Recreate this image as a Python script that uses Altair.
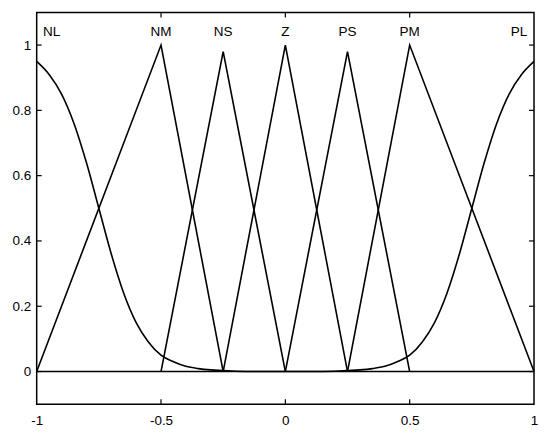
import altair as alt
import pandas as pd

# ---- data ----
nl_x = [-1, -0.95, -0.9, -0.85, -0.8, -0.75, -0.7, -0.65, -0.6, -0.55, -0.5,
        -0.45, -0.4, -0.35, -0.3, -0.25, -0.2, -0.1, 0]
nl_y = [0.95, 0.91, 0.85, 0.76, 0.64, 0.50, 0.36, 0.24, 0.15, 0.09, 0.05,
        0.03, 0.016, 0.009, 0.005, 0.003, 0.001, 0, 0]
pl_x = [0, 0.1, 0.2, 0.25, 0.3, 0.35, 0.4, 0.45, 0.5, 0.55, 0.6, 0.65, 0.7,
        0.75, 0.8, 0.85, 0.9, 0.95, 1]
pl_y = [0, 0, 0.001, 0.003, 0.005, 0.009, 0.016, 0.03, 0.05, 0.09, 0.15,
        0.24, 0.36, 0.50, 0.64, 0.76, 0.85, 0.91, 0.95]
nm_x = [-1, -0.5, -0.25]
nm_y = [0, 1, 0]
ns_x = [-0.5, -0.25, 0]
ns_y = [0, 0.98, 0]
z_x = [-0.25, 0, 0.25]
z_y = [0, 1, 0]
ps_x = [0, 0.25, 0.5]
ps_y = [0, 0.98, 0]
pm_x = [0.25, 0.5, 1]
pm_y = [0, 1, 0]

label_names = ["NL", "NM", "NS", "Z", "PS", "PM", "PL"]
label_x = [-0.94, -0.5, -0.25, 0, 0.25, 0.5, 0.94]
label_y = [1.04] * 7

x_ticks = [-1, -0.5, 0, 0.5, 1]
y_ticks = [0, 0.2, 0.4, 0.6, 0.8, 1]
x_domain = [-1, 1]
y_domain = [-0.1, 1.1]

# ---- build tables ----
def series_rows(specs):
    rows = []
    for name, xs, ys in specs:
        for i, (xv, yv) in enumerate(zip(xs, ys)):
            rows.append({"series": name, "x": xv, "y": yv, "i": i})
    return pd.DataFrame(rows)

curves = series_rows([("NL", nl_x, nl_y), ("PL", pl_x, pl_y)])
tris = series_rows([("NM", nm_x, nm_y), ("NS", ns_x, ns_y), ("Z", z_x, z_y),
                    ("PS", ps_x, ps_y), ("PM", pm_x, pm_y)])
labels = pd.DataFrame({"name": label_names, "x": label_x, "y": label_y})

W, H = 497.6, 392
tick_len_y = 5 * (y_domain[1] - y_domain[0]) / H
tick_len_x = 5 * (x_domain[1] - x_domain[0]) / W

inner_x = [v for v in x_ticks if v not in x_domain]
tick_rows = []
for v in inner_x:
    tick_rows.append({"x": v, "x2": v, "y": y_domain[0], "y2": y_domain[0] + tick_len_y})
    tick_rows.append({"x": v, "x2": v, "y": y_domain[1], "y2": y_domain[1] - tick_len_y})
for v in y_ticks:
    tick_rows.append({"x": x_domain[0], "x2": x_domain[0] + tick_len_x, "y": v, "y2": v})
    tick_rows.append({"x": x_domain[1], "x2": x_domain[1] - tick_len_x, "y": v, "y2": v})
ticks = pd.DataFrame(tick_rows)

FONT = "Liberation Sans"

xscale = alt.Scale(domain=x_domain, nice=False, zero=False)
yscale = alt.Scale(domain=y_domain, nice=False, zero=False)

xaxis = alt.Axis(values=x_ticks, title=None, grid=False, ticks=False, domain=False,
                 labelExpr="toString(datum.value)", labelFontSize=13.5, labelFont=FONT,
                 labelColor="#000", labelPadding=9, labelFlush=False)
yaxis = alt.Axis(values=y_ticks, title=None, grid=False, ticks=False, domain=False,
                 labelExpr="toString(datum.value)", labelFontSize=13.5, labelFont=FONT,
                 labelColor="#000", labelPadding=6)

smooth = alt.Chart(curves).mark_line(color="black", strokeWidth=1.6, interpolate="monotone").encode(
    x=alt.X("x:Q", scale=xscale, axis=xaxis),
    y=alt.Y("y:Q", scale=yscale, axis=yaxis),
    detail="series:N",
    order="i:Q",
)

straight = alt.Chart(tris).mark_line(color="black", strokeWidth=1.6, interpolate="linear").encode(
    x=alt.X("x:Q", scale=xscale),
    y=alt.Y("y:Q", scale=yscale),
    detail="series:N",
    order="i:Q",
)

zero = alt.Chart(pd.DataFrame({"y": [0]})).mark_rule(color="black", strokeWidth=1.4).encode(
    y=alt.Y("y:Q", scale=yscale),
)

tick_marks = alt.Chart(ticks).mark_rule(color="black", strokeWidth=1.2).encode(
    x=alt.X("x:Q", scale=xscale), x2="x2:Q",
    y=alt.Y("y:Q", scale=yscale), y2="y2:Q",
)

texts = alt.Chart(labels).mark_text(font=FONT, fontSize=13.5, color="black",
                                    baseline="middle", align="center").encode(
    x=alt.X("x:Q", scale=xscale),
    y=alt.Y("y:Q", scale=yscale),
    text="name:N",
)

chart = alt.layer(smooth, straight, zero, tick_marks, texts).properties(
    width=W, height=H,
    autosize=alt.AutoSizeParams(type="none"),
    padding={"left": 28.7, "top": 4.3, "right": 8, "bottom": 30},
    background="white",
).configure_view(stroke="black", strokeWidth=1.5)

chart.save("out.html", embed_options={"renderer": "svg", "actions": False})
